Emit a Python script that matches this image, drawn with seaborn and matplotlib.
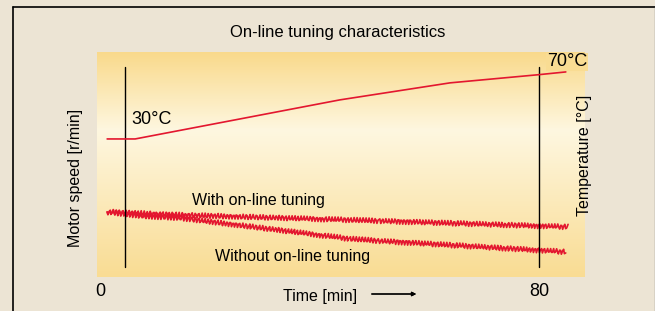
import matplotlib
matplotlib.use("Agg")
import matplotlib.pyplot as plt
import numpy as np
import pandas as pd
import seaborn as sns
from matplotlib.colors import LinearSegmentedColormap
from matplotlib.lines import Line2D

# values
temp_time = [1.3, 6.4, 43.7, 63.8, 80.0, 84.9]
temp_c = [30, 30, 54.3, 64.9, 70.0, 71.7]

with_time = [1.3, 14.6, 51.0, 85.3]
with_speed = [1328, 1313, 1283, 1253]

without_time = [1.3, 7.3, 14.6, 45.6, 51.0, 84.9]
without_speed = [1328, 1308, 1298, 1193, 1183, 1128]

marker_times = [4.6, 80.0]
x_ticks = [0, 80]
x_tick_labels = ["0", "80"]

BG = "#ece4d4"
RED = "#e3172f"

sns.set_theme(style="white")
plt.rcParams["font.family"] = ["Liberation Sans", "DejaVu Sans"]
plt.rcParams["text.color"] = "black"
plt.rcParams["xtick.color"] = "black"

fig = plt.figure(figsize=(6.55, 3.11), dpi=100, facecolor=BG)
W, H = 655, 311
x0, x1, y0, y1 = 97, 585, 52, 277.5
ax = fig.add_axes([x0 / W, 1 - y1 / H, (x1 - x0) / W, (y1 - y0) / H])
ax_t = ax.twinx()

ax.set_xlim(-0.55, 88.4)
ax.set_ylim(1000, 2127.5)
ax_t.set_ylim(-56.2, 84.1)

# vertical gradient: yellow at edges, pale in the middle
grad = LinearSegmentedColormap.from_list(
    "bg", [(0, "#f9dc93"), (0.65, "#fef7e0"), (1, "#f9d98a")]
)
ax.imshow(
    np.linspace(0, 1, 256).reshape(-1, 1),
    cmap=grad,
    aspect="auto",
    origin="lower",
    extent=[-0.55, 88.4, 1000, 2127.5],
    zorder=0,
)

df_with = pd.DataFrame({"time": with_time, "speed": with_speed})
df_without = pd.DataFrame({"time": without_time, "speed": without_speed})
df_temp = pd.DataFrame({"time": temp_time, "temp": temp_c})

sns.lineplot(data=df_with, x="time", y="speed", ax=ax, color=RED, lw=1.2, zorder=3)
sns.lineplot(data=df_without, x="time", y="speed", ax=ax, color=RED, lw=1.2, zorder=3)
# jagged look of the measured speed traces
for ln in ax.get_lines():
    ln.set_sketch_params(scale=2.6, length=3.2, randomness=1.2)

sns.lineplot(data=df_temp, x="time", y="temp", ax=ax_t, color=RED, lw=1.2, zorder=3)

for t in marker_times:
    ax.plot([t, t], [1055, 2055], color="black", lw=1.0, zorder=4)

for a in (ax, ax_t):
    a.set_xlabel("")
    a.set_ylabel("")
    a.set_yticks([])
    for s in a.spines.values():
        s.set_visible(False)
ax.set_xticks(x_ticks)
ax.set_xticklabels(x_tick_labels, fontsize=13, color="black")
ax.tick_params(axis="x", length=0, pad=4)
ax.set_facecolor("none")
ax_t.set_zorder(ax.get_zorder() + 1)
ax_t.patch.set_visible(False)

# texts in figure pixels
def ftext(x, y, s, **kw):
    fig.text(x / W, 1 - y / H, s, color="black", **kw)

ftext(338, 33, "On-line tuning characteristics", fontsize=12, ha="center", va="center")
ftext(320, 296, "Time [min]", fontsize=11.5, ha="center", va="center")
fig.add_artist(
    plt.annotate(
        "", xy=(419 / W, 1 - 294 / H), xytext=(369 / W, 1 - 294 / H),
        xycoords="figure fraction", textcoords="figure fraction",
        arrowprops=dict(arrowstyle="-|>", color="black", lw=0.9, mutation_scale=6),
    )
)
ftext(75.5, 177.5, "Motor speed [r/min]", fontsize=11.5, rotation=90, ha="center", va="center")
ftext(585, 155, "Temperature [°C]", fontsize=11.5, rotation=90, ha="center", va="center")
ftext(131, 120, "30°C", fontsize=13, ha="left", va="center")
ftext(547, 62, "70°C", fontsize=13, ha="left", va="center",
      bbox=dict(boxstyle="square,pad=0.05", fc="#f9dc93", ec="none"))
ftext(192, 205, "With on-line tuning", fontsize=11.5, ha="left", va="baseline")
ftext(215, 261, "Without on-line tuning", fontsize=11.5, ha="left", va="baseline")

# frame lines on the left and top
fig.add_artist(Line2D([12.5 / W, 12.5 / W], [0, 1 - 6.5 / H], color="black", lw=1.2))
fig.add_artist(Line2D([12.5 / W, 1], [1 - 6.5 / H, 1 - 6.5 / H], color="black", lw=1.2))
fig.add_artist(Line2D([654.5 / W, 654.5 / W], [0, 1 - 6.5 / H], color="#8a8a8a", lw=1.0))

fig.savefig("out.png", dpi=100, facecolor=BG)
